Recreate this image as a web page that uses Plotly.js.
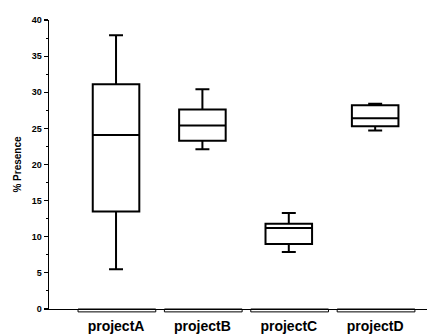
<!DOCTYPE html>
<html>
<head>
<meta charset="utf-8">
<script src="https://cdn.plot.ly/plotly-3.0.1.min.js"></script>
<style>html,body{margin:0;padding:0;background:#fff;}#chart{width:428px;height:334px;}</style>
</head>
<body>
<div id="chart"></div>
<script>
var categories = ["projectA", "projectB", "projectC", "projectD"];
var lowerWhisker = [5.5, 22.1, 7.9, 24.7];
var q1Values = [13.5, 23.3, 9.0, 25.3];
var medianValues = [24.1, 25.4, 11.2, 26.4];
var q3Values = [31.1, 27.6, 11.8, 28.2];
var upperWhisker = [37.9, 30.4, 13.3, 28.4];
var yTickValues = [0, 5, 10, 15, 20, 25, 30, 35, 40];

var trace = {
  type: "box",
  x: categories,
  q1: q1Values,
  median: medianValues,
  q3: q3Values,
  lowerfence: lowerWhisker,
  upperfence: upperWhisker,
  fillcolor: "#ffffff",
  line: {color: "#000000", width: 2},
  whiskerwidth: 0.3,
  boxpoints: false,
  hoverinfo: "none"
};

// bracket decorations under each category, positioned by category index
var shapes = categories.map(function (c, i) {
  return {
    type: "rect", xref: "x", yref: "paper",
    x0: i - 0.44, x1: i + 0.46, y0: -0.01, y1: 0.0,
    line: {color: "#000", width: 1}, fillcolor: "rgba(0,0,0,0)"
  };
});

var layout = {
  width: 428, height: 334,
  margin: {l: 49, r: 1, t: 20, b: 25},
  paper_bgcolor: "#fff", plot_bgcolor: "#fff",
  showlegend: false,
  boxgap: 0.23,
  font: {family: "Liberation Sans, Arial, sans-serif", color: "#000"},
  xaxis: {
    type: "category",
    range: [-0.776, 3.6],
    showline: true, linecolor: "#000", linewidth: 1.2,
    ticks: "", showgrid: false, zeroline: false,
    tickfont: {size: 14, color: "#000", weight: "bold"},
    ticklabelstandoff: 4
  },
  yaxis: {
    range: [0, 40],
    tickvals: yTickValues,
    ticktext: yTickValues.map(String),
    showline: true, linecolor: "#000", linewidth: 1.5,
    ticks: "outside", ticklen: 4, tickwidth: 1.2, tickcolor: "#000",
    minor: {dtick: 2.5, ticks: "outside", ticklen: 2, tickcolor: "#000", tickwidth: 1},
    showgrid: false, zeroline: false,
    tickfont: {size: 9, color: "#000", weight: "bold"},
    title: {text: "% Presence", font: {size: 10, color: "#000", weight: "bold"}, standoff: 8}
  },
  shapes: shapes
};

Plotly.newPlot("chart", [trace], layout, {staticPlot: true, displayModeBar: false});
</script>
</body>
</html>
